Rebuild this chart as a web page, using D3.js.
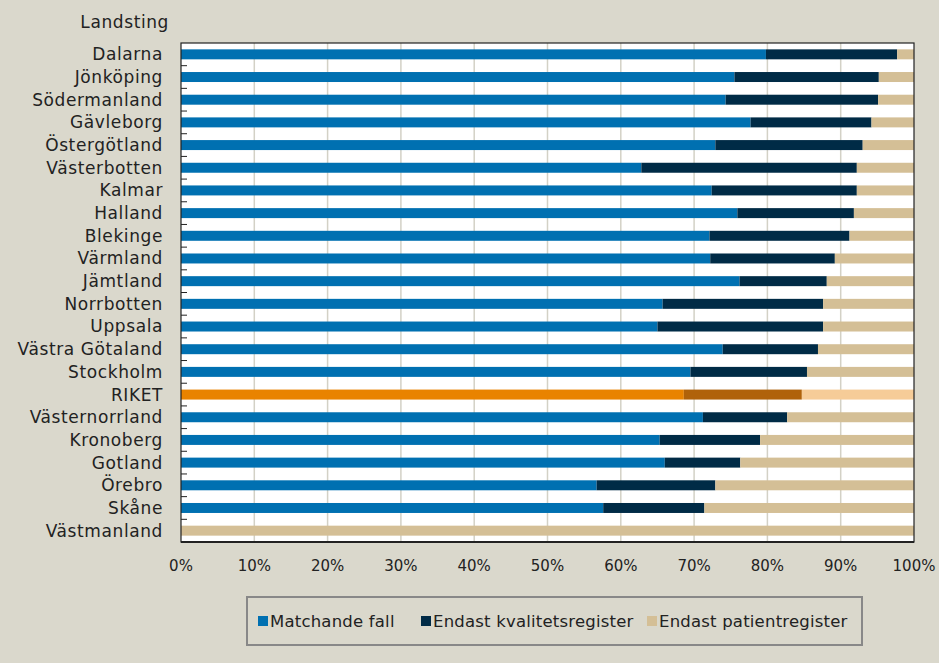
<!DOCTYPE html>
<html>
<head>
<meta charset="utf-8">
<script src="https://cdn.jsdelivr.net/npm/d3@7/dist/d3.min.js"></script>
<style>
  html, body { margin: 0; padding: 0; background: #dad8cc; }
  svg { display: block; font-family: "Century Gothic", "DejaVu Sans", sans-serif; }
</style>
</head>
<body>
<script>
// categories, top to bottom
var landsting = ["Dalarna", "Jönköping", "Södermanland", "Gävleborg", "Östergötland",
  "Västerbotten", "Kalmar", "Halland", "Blekinge", "Värmland", "Jämtland", "Norrbotten",
  "Uppsala", "Västra Götaland", "Stockholm", "RIKET", "Västernorrland", "Kronoberg",
  "Gotland", "Örebro", "Skåne", "Västmanland"];

// percent of cases per group
var matchande = [79.8, 75.5, 74.3, 77.7, 72.9, 62.8, 72.4, 75.9, 72.1, 72.2, 76.2, 65.7,
  65.0, 73.9, 69.5, 68.6, 71.2, 65.3, 66.0, 56.7, 57.6, 0];
var kvalitet = [17.9, 19.7, 20.8, 16.5, 20.1, 29.4, 19.8, 15.9, 19.1, 17.0, 11.9, 21.9,
  22.6, 13.0, 15.9, 16.1, 11.5, 13.7, 10.3, 16.2, 13.8, 0];
var patient = [2.3, 4.8, 4.9, 5.8, 7.0, 7.8, 7.8, 8.2, 8.8, 10.8, 11.9, 12.4,
  12.4, 13.1, 14.6, 15.3, 17.3, 21.0, 23.7, 27.1, 28.6, 100];

var seriesNames = ["Matchande fall", "Endast kvalitetsregister", "Endast patientregister"];
var xTicks = [0, 10, 20, 30, 40, 50, 60, 70, 80, 90, 100];

var colors = ["#0070b1", "#002b46", "#d4bf96"];
var rikColors = ["#e98300", "#b0620a", "#f6cc98"];

drawChart();

function drawChart(){
  var width = 939, height = 663;
  var pLeft = 181, pRight = 914, pTop = 43, pBottom = 542;

  var svg = d3.select("body").append("svg")
      .attr("width", width)
      .attr("height", height);

  var x = d3.scaleLinear().domain([0, 100]).range([pLeft, pRight]);
  var y = d3.scaleBand().domain(landsting).range([pTop, pBottom])
      .paddingInner(0.56).paddingOuter(0.28);

  // stacked rows
  var rows = landsting.map(function(name, i) {
    return { name: name, matchande: matchande[i], kvalitet: kvalitet[i], patient: patient[i] };
  });
  var layers = d3.stack().keys(["matchande", "kvalitet", "patient"])(rows);

  // plot background
  svg.append("rect")
      .attr("x", pLeft).attr("y", pTop)
      .attr("width", pRight - pLeft).attr("height", pBottom - pTop)
      .attr("fill", "#ffffff");

  // gridlines
  svg.selectAll(".grid")
      .data(xTicks.slice(1, -1))
      .enter().append("line")
      .attr("class", "grid")
      .attr("x1", function(d) { return x(d); })
      .attr("x2", function(d) { return x(d); })
      .attr("y1", pTop).attr("y2", pBottom)
      .attr("stroke", "#d3d1c6")
      .attr("stroke-width", 1.5);

  // bars
  layers.forEach(function(layer, k) {
    svg.selectAll(".bar" + k)
        .data(layer)
        .enter().append("rect")
        .attr("class", "bar" + k)
        .attr("x", function(d) { return x(d[0]); })
        .attr("y", function(d) { return y(d.data.name); })
        .attr("width", function(d) { return x(d[1]) - x(d[0]); })
        .attr("height", y.bandwidth())
        .attr("fill", function(d) { return d.data.name === "RIKET" ? rikColors[k] : colors[k]; });
  });

  // frame
  svg.append("rect")
      .attr("x", pLeft).attr("y", pTop)
      .attr("width", pRight - pLeft).attr("height", pBottom - pTop)
      .attr("fill", "none")
      .attr("stroke", "#222")
      .attr("stroke-width", 1.2);
  svg.append("line")
      .attr("x1", pLeft).attr("x2", pRight).attr("y1", pBottom).attr("y2", pBottom)
      .attr("stroke", "#222").attr("stroke-width", 2);

  // y tick marks at category boundaries
  var step = y.step();
  svg.selectAll(".ytick")
      .data(d3.range(1, landsting.length))
      .enter().append("line")
      .attr("class", "ytick")
      .attr("x1", pLeft).attr("x2", pLeft + 6)
      .attr("y1", function(i) { return pTop + i * step; })
      .attr("y2", function(i) { return pTop + i * step; })
      .attr("stroke", "#222");

  // y labels
  svg.selectAll(".ylab")
      .data(landsting)
      .enter().append("text")
      .attr("class", "ylab")
      .attr("x", 163)
      .attr("y", function(d) { return y(d) + y.bandwidth() / 2; })
      .attr("dy", "0.35em")
      .attr("text-anchor", "end")
      .attr("font-size", 17)
      .attr("letter-spacing", 0.6)
      .attr("fill", "#222")
      .text(function(d) { return d; });

  svg.append("text")
      .attr("x", 169).attr("y", 22)
      .attr("dy", "0.35em")
      .attr("text-anchor", "end")
      .attr("font-size", 17)
      .attr("letter-spacing", 0.6)
      .attr("fill", "#222")
      .text("Landsting");

  // x axis labels
  svg.selectAll(".xlab")
      .data(xTicks)
      .enter().append("text")
      .attr("class", "xlab")
      .attr("x", function(d) { return x(d); })
      .attr("y", 566)
      .attr("dy", "0.35em")
      .attr("text-anchor", "middle")
      .attr("font-size", 15)
      .attr("fill", "#222")
      .text(function(d) { return d + "%"; });

  // legend
  svg.append("rect")
      .attr("x", 247).attr("y", 597)
      .attr("width", 615).attr("height", 48)
      .attr("fill", "none")
      .attr("stroke", "#888")
      .attr("stroke-width", 2);

  var legendX = [258, 421, 647];
  var legend = svg.selectAll(".leg")
      .data(seriesNames)
      .enter().append("g")
      .attr("class", "leg")
      .attr("transform", function(d, i) { return "translate(" + legendX[i] + ",621)"; });
  legend.append("rect")
      .attr("x", 0).attr("y", -5)
      .attr("width", 10).attr("height", 10)
      .attr("fill", function(d, i) { return colors[i]; });
  legend.append("text")
      .attr("x", 12)
      .attr("dy", "0.35em")
      .attr("font-size", 16.5)
      .attr("letter-spacing", 0.2)
      .attr("fill", "#222")
      .text(function(d) { return d; });
}
</script>
</body>
</html>
